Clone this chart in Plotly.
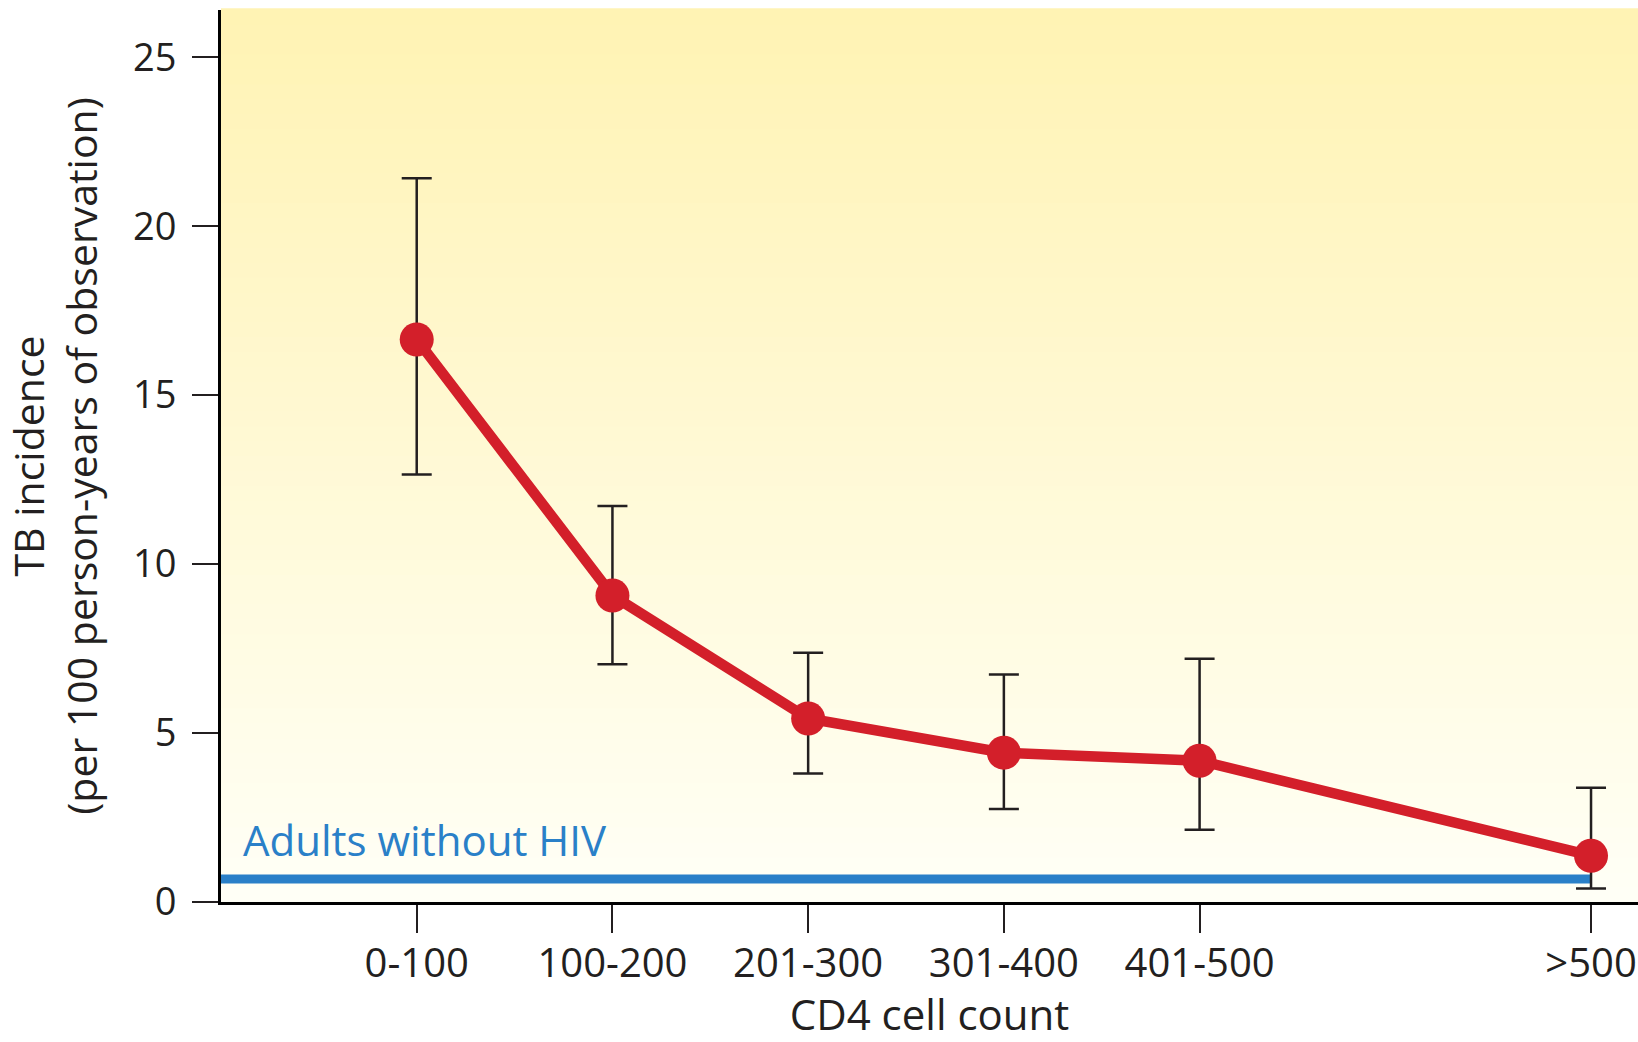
import plotly.graph_objects as go

# ---- data ----
categories = ["0-100", "100-200", "201-300", "301-400", "401-500", ">500"]
x_pos = [1, 2, 3, 4, 5, 7]
tb_incidence = [16.65, 9.07, 5.43, 4.42, 4.18, 1.37]
ci_upper = [21.42, 11.72, 7.38, 6.73, 7.20, 3.38]
ci_lower = [12.65, 7.04, 3.80, 2.75, 2.14, 0.40]
baseline_x = [0, 7]
baseline_value = [0.68, 0.68]
y_ticks = [0, 5, 10, 15, 20, 25]

FONT = "Open Sans"
TXT = "#231F20"
RED = "#D31F2A"
BLUE = "#2A80C8"

err_plus = [u - v for u, v in zip(ci_upper, tb_incidence)]
err_minus = [v - l for v, l in zip(tb_incidence, ci_lower)]

fig = go.Figure()

fig.add_trace(go.Scatter(
    x=baseline_x, y=baseline_value, mode="lines",
    line=dict(color=BLUE, width=9), hoverinfo="skip", showlegend=False,
    cliponaxis=False,
))

fig.add_trace(go.Scatter(
    x=x_pos, y=tb_incidence, mode="lines+markers",
    line=dict(color=RED, width=10.5),
    marker=dict(color=RED, size=34),
    error_y=dict(type="data", symmetric=False, array=err_plus, arrayminus=err_minus,
                 color=TXT, thickness=2.5, width=15),
    showlegend=False,
))

# background vertical gradient (style only)
top = (255, 243, 180)
bot = (255, 255, 246)
n = 60
shapes = []
for i in range(n):
    t = i / (n - 1)
    c = tuple(round(bot[k] + (top[k] - bot[k]) * t) for k in range(3))
    shapes.append(dict(type="rect", xref="x domain", yref="y domain",
                       x0=0, x1=1, y0=i / n, y1=(i + 1) / n + 0.002,
                       fillcolor="rgb(%d,%d,%d)" % c, line=dict(width=0), layer="below"))

fig.add_annotation(x=0.1, y=1.85, xref="x", yref="y", text="Adults without HIV",
                   showarrow=False, xanchor="left", yanchor="middle",
                   font=dict(family=FONT, size=42, color=BLUE))

fig.update_layout(
    width=1638, height=1042,
    margin=dict(l=221, r=0, t=10, b=140, autoexpand=False),
    paper_bgcolor="white", plot_bgcolor="white",
    shapes=shapes,
    font=dict(family=FONT, color=TXT, size=38),
    xaxis=dict(
        range=[0, 7.24], tickmode="array", tickvals=x_pos, ticktext=categories,
        automargin=False,
        showgrid=False, zeroline=False, showline=True, linecolor="black", linewidth=3,
        ticks="outside", ticklen=28, tickwidth=2, tickcolor=TXT, ticklabelstandoff=-4,
        tickfont=dict(family=FONT, size=40, color=TXT),
        title=dict(text="CD4 cell count", font=dict(family=FONT, size=42, color=TXT), standoff=16),
    ),
    yaxis=dict(
        range=[0, 26.4], tickmode="array", tickvals=y_ticks,
        automargin=False,
        showgrid=False, zeroline=False, showline=True, linecolor="black", linewidth=3,
        ticks="outside", ticklen=26, tickwidth=2, tickcolor=TXT, ticklabelstandoff=8,
        tickfont=dict(family=FONT, size=38, color=TXT),
        title=dict(text="TB incidence<br>(per 100 person-years of observation)",
                   font=dict(family=FONT, size=41, color=TXT), standoff=23),
    ),
)

fig.write_html("out.html", config={"displayModeBar": False},
               post_script="document.body.style.margin='0';")
